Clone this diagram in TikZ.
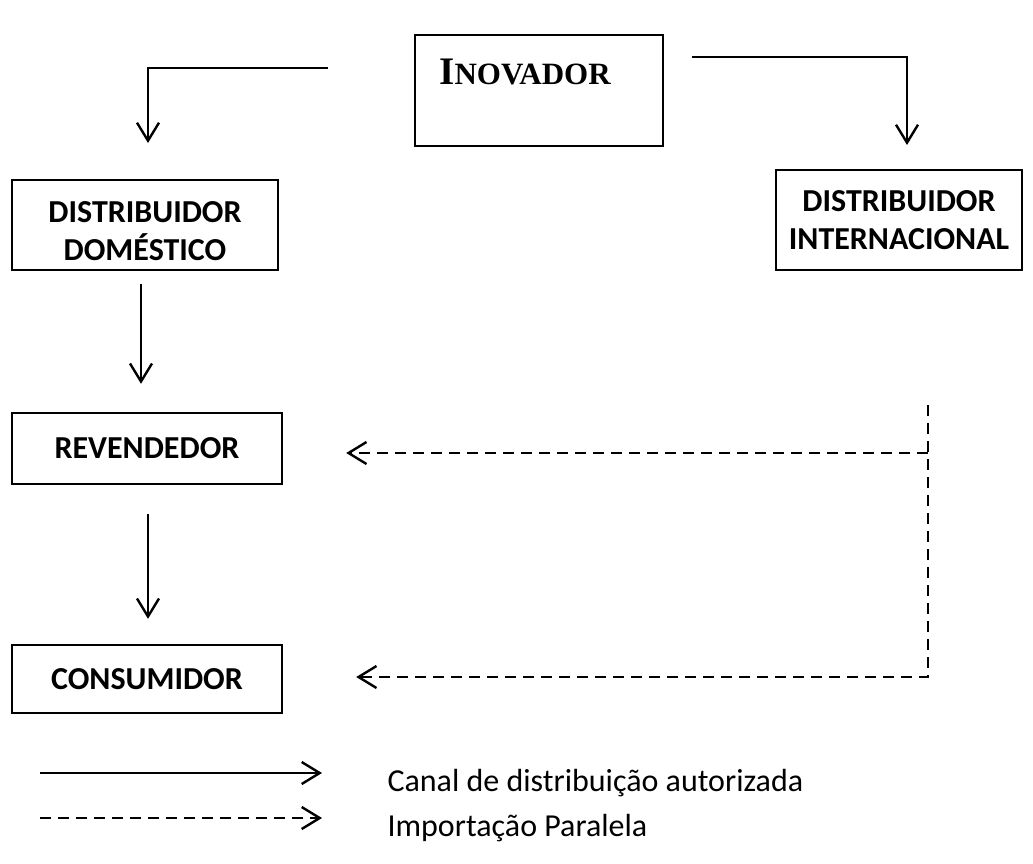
\documentclass[tikz,border=0pt]{standalone}
\usepackage{fontspec}
\setmainfont{Carlito}
\newfontfamily\timesfont{Liberation Serif}
\usetikzlibrary{arrows.meta}

\begin{document}
\begin{tikzpicture}[x=1pt, y=-1pt, line width=2.4pt,
	font=\fontsize{32}{38}\selectfont\bfseries,
	box/.style={draw, inner sep=0pt, align=center},
	flow/.style={-{Straight Barb[length=18pt,width=22pt,line width=2.4pt]}},
	par/.style={flow, dash pattern=on 11pt off 7pt}]
	\useasboundingbox (0,0) rectangle (1033,863);
	\node[box, minimum width=248pt, minimum height=111pt, text depth=38pt] (inov) at (539,90.5)
	  {\timesfont\fontsize{39}{42}\selectfont I\fontsize{31}{34}\selectfont NOVADOR\hspace*{28pt}};
	\node[box, minimum width=266pt, minimum height=90pt] (dom) at (145,225) {DISTRIBUIDOR\rule{0pt}{33pt}\\DOMÉSTICO};
	\node[box, minimum width=246pt, minimum height=100pt] (int) at (899,220) {DISTRIBUIDOR\\INTERNACIONAL};
	\node[box, minimum width=270pt, minimum height=71pt] (rev) at (147,448.5) {REVENDEDOR};
	\node[box, minimum width=270pt, minimum height=68pt] (cons) at (147,679) {CONSUMIDOR};
	\coordinate (a1) at (328,68); \coordinate (a2) at (148,143);
	\coordinate (b1) at (692,57); \coordinate (b2) at (907,145);
	\draw[flow] (a1) -| (a2);
	\draw[flow] (b1) -| (b2);
	\draw[flow, shorten <=13pt, shorten >=28pt] (dom.south -| 141,0) -- (rev.north -| 141,0);
	\draw[flow, shorten <=29pt, shorten >=25pt] (rev.south -| 148,0) -- (cons.north -| 148,0);
	\coordinate (d0) at (928,405); \coordinate (d1) at (928,453); \coordinate (d2) at (928,677);
	\draw[par] (d0) -- (d2) -- (cons.east |- d2) [shorten >=73pt];
	\draw[par, shorten >=63pt] (d1) -- (rev.east |- d1);
	\coordinate (l1) at (40,773); \coordinate (l2) at (322,773);
	\coordinate (l3) at (40,818); \coordinate (l4) at (322,818);
	\draw[flow] (l1) -- (l2);
	\draw[par] (l3) -- (l4);
	\node[anchor=base west, font=\fontsize{32}{38}\selectfont] (t1) at (383,791) {Canal de distribuição autorizada};
	\node[anchor=base west, font=\fontsize{32}{38}\selectfont] (t2) at (383,836) {Importação Paralela};
\end{tikzpicture}
\end{document}
